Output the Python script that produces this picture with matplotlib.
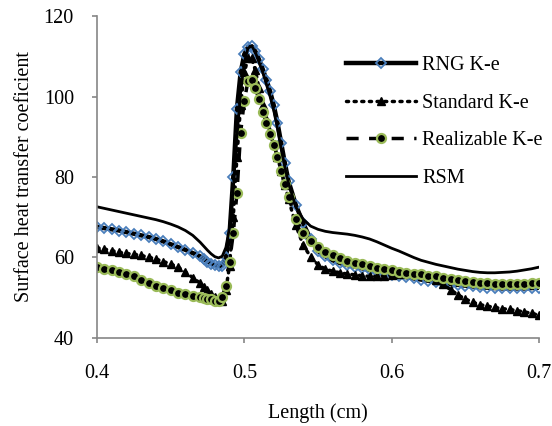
import matplotlib
matplotlib.use('Agg')
import matplotlib.pyplot as plt

plt.rcParams['font.family'] = 'Liberation Serif'

# x positions (cm) - denser around the peak
length = [0.400, 0.405, 0.410, 0.415, 0.420, 0.425, 0.430, 0.435, 0.440, 0.445,
          0.450, 0.455, 0.460, 0.465, 0.470,
          0.4725, 0.475, 0.4775, 0.480, 0.4825, 0.485, 0.4875, 0.490, 0.4925, 0.495,
          0.4975, 0.500, 0.5025, 0.505, 0.5075, 0.510, 0.5125, 0.515, 0.5175, 0.520,
          0.5225, 0.525, 0.5275,
          0.530, 0.535, 0.540, 0.545, 0.550, 0.555, 0.560, 0.565, 0.570, 0.575,
          0.580, 0.585, 0.590, 0.595, 0.600, 0.605, 0.610, 0.615, 0.620, 0.625,
          0.630, 0.635, 0.640, 0.645, 0.650, 0.655, 0.660, 0.665, 0.670, 0.675,
          0.680, 0.685, 0.690, 0.695, 0.700]

rng_ke = [67.6, 67.3, 67.0, 66.7, 66.3, 65.9, 65.5, 65.1, 64.6, 64.0,
          63.3, 62.6, 61.9, 61.1, 60.3,
          59.6, 59.0, 58.5, 58.1, 57.9, 58.0, 60.0, 66.0, 80.0, 97.0,
          106.0, 110.5, 112.3, 112.5, 111.2, 109.2, 106.8, 104.2, 101.3, 97.8,
          93.5, 88.5, 83.5,
          79.0, 73.0, 68.5, 64.5, 61.6, 60.3, 59.3, 58.6, 58.1, 57.7,
          57.3, 56.9, 56.5, 56.1, 55.7, 55.4, 55.1, 54.8, 54.5, 54.2,
          53.9, 53.6, 53.4, 53.2, 53.0, 52.8, 52.6, 52.5, 52.4, 52.3,
          52.3, 52.3, 52.3, 52.4, 52.5]

standard_ke = [62.4, 62.1, 61.7, 61.3, 61.0, 60.8, 60.5, 60.1, 59.6, 59.0,
               58.4, 57.6, 56.4, 55.0, 53.6,
               52.7, 51.8, 51.0, 50.2, 49.5, 49.3, 52.0, 58.0, 70.0, 85.0,
               98.0, 106.0, 109.5, 109.5, 106.5, 102.0, 98.0, 94.5, 91.3, 88.2,
               85.0, 81.5, 78.0,
               74.5, 68.0, 63.0, 60.2, 58.2, 57.1, 56.6, 56.2, 55.9, 55.7,
               55.5, 55.3, 55.3, 55.4, 55.6, 55.9, 56.1, 56.2, 56.0, 55.5,
               54.5, 53.3, 52.0, 50.7, 49.7, 48.9, 48.3, 47.9, 47.6, 47.3,
               47.1, 46.8, 46.5, 46.1, 45.7]

realizable_ke = [57.6, 57.2, 56.9, 56.5, 56.0, 55.3, 54.5, 53.7, 53.0, 52.4,
                 51.8, 51.3, 50.9, 50.5, 50.2,
                 50.0, 49.8, 49.6, 49.3, 49.2, 50.3, 53.0, 59.0, 66.0, 76.0,
                 91.0, 99.0, 103.8, 104.2, 102.0, 99.3, 96.2, 93.4, 90.8, 88.0,
                 85.0, 81.5, 78.2,
                 75.0, 69.5, 66.2, 64.0, 62.5, 61.4, 60.5, 59.8, 59.2, 58.7,
                 58.3, 57.9, 57.5, 57.1, 56.8, 56.5, 56.2, 56.0, 55.8, 55.5,
                 55.3, 55.0, 54.7, 54.4, 54.1, 53.9, 53.7, 53.6, 53.5, 53.4,
                 53.4, 53.4, 53.5, 53.6, 53.7]

rsm = [72.6, 72.2, 71.8, 71.4, 71.0, 70.6, 70.2, 69.8, 69.4, 68.9,
       68.3, 67.6, 66.7, 65.5, 63.8,
       62.8, 61.8, 60.9, 60.2, 59.9, 60.3, 62.5, 67.5, 77.0, 90.0,
       101.0, 108.5, 112.0, 112.6, 111.0, 108.5, 106.0, 103.0, 100.0, 96.5,
       92.0, 87.0, 82.5,
       78.5, 72.5, 69.5, 67.8, 67.0, 66.5, 66.2, 66.0, 65.8, 65.5,
       65.1, 64.6, 63.9, 63.1, 62.3, 61.6, 60.8, 60.0, 59.3, 58.8,
       58.3, 57.9, 57.5, 57.1, 56.8, 56.5, 56.3, 56.2, 56.2, 56.3,
       56.4, 56.6, 56.9, 57.2, 57.6]

fig = plt.figure(figsize=(5.52, 4.26), dpi=100)
ax = fig.add_axes([0.1757, 0.2066, 0.8007, 0.7558])

ax.plot(length, rng_ke, color='black', lw=3.2, marker='D', ms=4.8,
        mfc='none', mec='#4a7ebb', mew=1.3, label='RNG K-e')
ax.plot(length, standard_ke, color='black', lw=2.5, ls=(0, (0.6, 1.6)),
        dash_capstyle='round', marker='^', ms=6, mfc='black', mec='black',
        label='Standard K-e')
ax.plot(length, realizable_ke, color='black', lw=2.5, ls=(0, (3.5, 3)),
        marker='o', ms=6.5, mfc='black', mec='#9bbb59', mew=1.6,
        label='Realizable K-e')
ax.plot(length, rsm, color='black', lw=2, label='RSM')

ax.set_xlim(0.4, 0.7)
ax.set_ylim(40, 120)
ax.set_xticks([0.4, 0.5, 0.6, 0.7])
ax.set_xticklabels(['0.4', '0.5', '0.6', '0.7'])
ax.set_yticks([40, 60, 80, 100, 120])

for side in ['top', 'right']:
    ax.spines[side].set_visible(False)
for side in ['left', 'bottom']:
    ax.spines[side].set_color('#868686')
    ax.spines[side].set_linewidth(1.2)
ax.tick_params(axis='both', colors='#868686', length=3.6, width=1.2,
               labelsize=14.5, labelcolor='black')
ax.tick_params(axis='x', pad=15)
ax.tick_params(axis='y', pad=13)

ax.set_xlabel('Length (cm)', fontsize=14.5, labelpad=15)
ax.set_ylabel('Surface heat transfer coeficient', fontsize=14.5, labelpad=7)

ax.legend(loc='upper left', bbox_to_anchor=(0.626, 0.868),
          bbox_transform=fig.transFigure, frameon=False, fontsize=14.5,
          handlelength=3.5, handletextpad=0.3, labelspacing=0.91,
          numpoints=1, borderaxespad=0, borderpad=0)

fig.savefig('out.png', dpi=100)
